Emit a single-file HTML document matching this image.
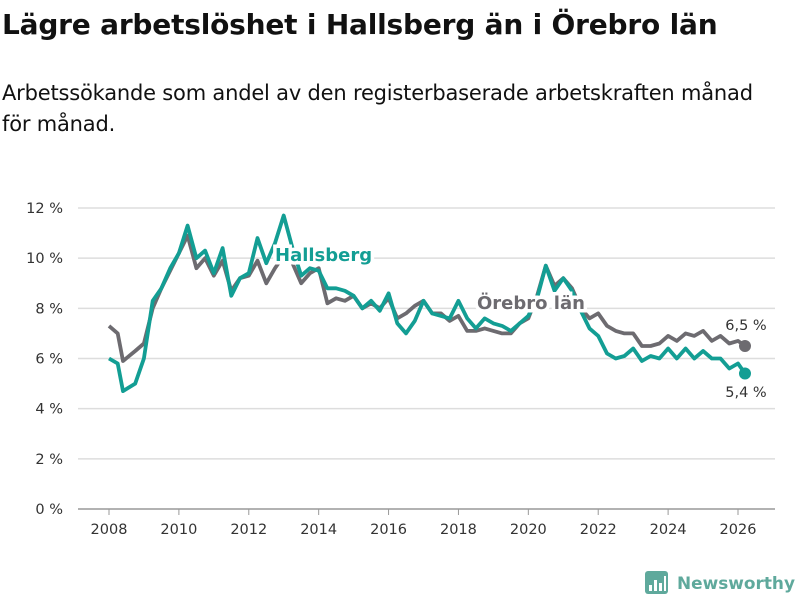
<!DOCTYPE html>
<html><head><meta charset="utf-8">
<style>
body{margin:0;width:800px;height:600px;background:#fff;font-family:"DejaVu Sans","Liberation Sans",sans-serif;color:#111;overflow:hidden;position:relative}
h1{position:absolute;left:2px;top:8px;margin:0;font-size:28px;font-weight:bold;letter-spacing:-0.2px;white-space:nowrap}
.sub{position:absolute;left:2px;top:78px;margin:0;font-size:21px;line-height:31px;width:798px;letter-spacing:-0.2px}
svg{position:absolute;left:0;top:0;font-family:"DejaVu Sans","Liberation Sans",sans-serif}
</style></head><body>
<h1>Lägre arbetslöshet i Hallsberg än i Örebro län</h1>
<p class="sub">Arbetssökande som andel av den registerbaserade arbetskraften månad<br>för månad.</p>
<svg id="chart" width="800" height="600"></svg>
<script>
const years=[2008,2008.25,2008.4,2008.75,2009,2009.25,2009.5,2009.75,2010,2010.25,2010.5,2010.75,2011,2011.25,2011.5,2011.75,2012,2012.25,2012.5,2012.75,2013,2013.25,2013.5,2013.75,2014,2014.25,2014.5,2014.75,2015,2015.25,2015.5,2015.75,2016,2016.25,2016.5,2016.75,2017,2017.25,2017.5,2017.75,2018,2018.25,2018.5,2018.75,2019,2019.25,2019.5,2019.75,2020,2020.25,2020.5,2020.75,2021,2021.25,2021.5,2021.75,2022,2022.25,2022.5,2022.75,2023,2023.25,2023.5,2023.75,2024,2024.25,2024.5,2024.75,2025,2025.25,2025.5,2025.75,2026,2026.2];
const hallsberg=[6.0,5.8,4.7,5.0,6.0,8.3,8.8,9.6,10.2,11.3,10.0,10.3,9.4,10.4,8.5,9.2,9.4,10.8,9.8,10.6,11.7,10.4,9.3,9.6,9.5,8.8,8.8,8.7,8.5,8.0,8.3,7.9,8.6,7.4,7.0,7.5,8.3,7.8,7.7,7.6,8.3,7.6,7.2,7.6,7.4,7.3,7.1,7.4,7.7,8.4,9.7,8.7,9.2,8.7,7.9,7.2,6.9,6.2,6.0,6.1,6.4,5.9,6.1,6.0,6.4,6.0,6.4,6.0,6.3,6.0,6.0,5.6,5.8,5.4];
const orebro=[7.3,7.0,5.9,6.3,6.6,8.0,8.8,9.5,10.2,10.9,9.6,10.0,9.3,9.9,8.7,9.2,9.3,9.9,9.0,9.6,10.1,9.8,9.0,9.4,9.6,8.2,8.4,8.3,8.5,8.0,8.2,8.0,8.4,7.6,7.8,8.1,8.3,7.8,7.8,7.5,7.7,7.1,7.1,7.2,7.1,7.0,7.0,7.4,7.6,8.5,9.7,8.9,9.2,8.8,8.0,7.6,7.8,7.3,7.1,7.0,7.0,6.5,6.5,6.6,6.9,6.7,7.0,6.9,7.1,6.7,6.9,6.6,6.7,6.5];
const yTicks=[0,2,4,6,8,10,12];
const yTickLabels=["0 %","2 %","4 %","6 %","8 %","10 %","12 %"];
const xTicks=[2008,2010,2012,2014,2016,2018,2020,2022,2024,2026];
const endLabels=["6,5 %","5,4 %"];

const NS="http://www.w3.org/2000/svg";
const svg=document.getElementById('chart');
const X=v=>109+(v-2008)*(738-109)/18;
const Y=v=>509-v*(509-208)/12;
function mk(tag,attrs,parent){const e=document.createElementNS(NS,tag);for(const k in attrs)e.setAttribute(k,attrs[k]);(parent||svg).appendChild(e);return e;}

yTicks.forEach((t,i)=>{
  const l=mk('line',{x1:78,x2:775,y1:Y(t),y2:Y(t),stroke:t===0?'#999':'#ddd','stroke-width':1.5});
  
  
  const tx=mk('text',{x:63,y:Y(t)+5,'text-anchor':'end','font-size':14.5,fill:'#333'});
  tx.textContent=yTickLabels[i];
  
  
});
xTicks.forEach(t=>{
  const l=mk('line',{x1:X(t),x2:X(t),y1:509,y2:515,stroke:'#999','stroke-width':1});
  
  
  const tx=mk('text',{x:X(t),y:534,'text-anchor':'middle','font-size':14.5,fill:'#333'});
  tx.textContent=t;
  
  
});
function series(vals,color,name){
  const d=vals.map((v,i)=>(i?'L':'M')+X(years[i]).toFixed(1)+','+Y(v).toFixed(1)).join('');
  const p=mk('path',{d:d,fill:'none',stroke:color,'stroke-width':3.8,'stroke-linejoin':'round'});
  
  
  const n=vals.length-1;
  const c=mk('circle',{cx:X(years[n]),cy:Y(vals[n]),r:6,fill:color});
  
  
}
series(orebro,'#6d6b70','orebro');
series(hallsberg,'#139e94','hallsberg');

function label(x,y,txt,color,name,anchor,size,bold){
  const t=mk('text',{x:x,y:y,'text-anchor':anchor,'font-size':size,'font-weight':bold?'bold':'normal',fill:color,stroke:'#fff','stroke-width':bold?7:0,'paint-order':'stroke'});
  t.textContent=txt;
  
  
}
label(275,261,'Hallsberg','#139e94','hallsberg-label','start',18,true);
label(477,309,'Örebro län','#6d6b70','orebro-label','start',18,true);
label(746,330,endLabels[0],'#333','orebro-end-value','middle',14.5,false);
label(746,397,endLabels[1],'#333','hallsberg-end-value','middle',14.5,false);

const lg=mk('g',{});


mk('rect',{x:645,y:571,width:23,height:23,rx:3,fill:'#5fa99c'},lg);
[[649,585,3,6],[654,580,3,11],[659,583,3,8],[664,576,2,15]].forEach(r=>mk('rect',{x:r[0],y:r[1],width:r[2],height:r[3],fill:'#fff'},lg));
const lt=mk('text',{x:677,y:589,'font-size':17,'font-weight':'bold',fill:'#5fa99c',textLength:118,lengthAdjust:'spacingAndGlyphs'},lg);
lt.textContent='Newsworthy';
</script>
</body></html>
